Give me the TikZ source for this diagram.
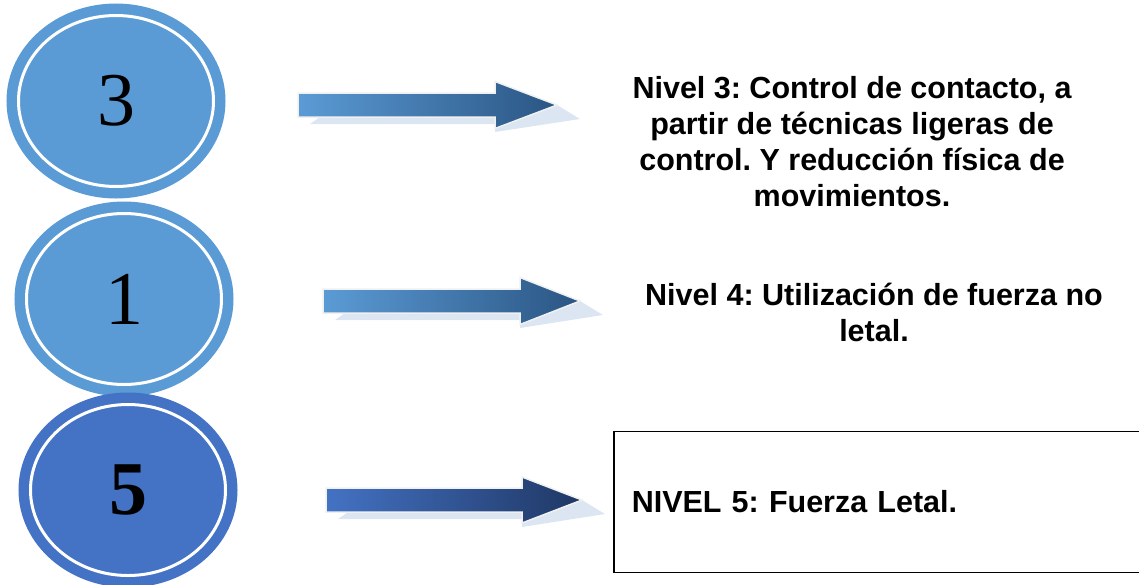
\documentclass[tikz,border=0pt]{standalone}
\usepackage{fontspec}
\setmainfont{Liberation Sans}
\newfontfamily\romana{Liberation Serif}
\usetikzlibrary{shapes.geometric}
\frenchspacing

\definecolor{azulclaro}{HTML}{5B9BD5}
\definecolor{azuloscuro}{HTML}{4472C4}
\definecolor{sombra}{HTML}{DCE6F2}
\definecolor{puntaclara}{HTML}{2A5583}
\definecolor{puntaoscura}{HTML}{1F3764}

\tikzset{
  anillo/.style={ellipse, inner sep=0pt, minimum width=195pt, minimum height=171pt,
    fill=#1, draw=white, line width=3pt, preaction={draw=#1, line width=24pt}},
  flechaclara/.style={left color=azulclaro, right color=puntaclara, draw=black!6, line width=1.5pt},
  flechaoscura/.style={left color=azuloscuro, right color=puntaoscura, draw=black!6, line width=1.5pt},
  nivel/.style={font=\bfseries\fontsize{30.5}{36}\selectfont, align=center},
  numero/.style={font=\romana\fontsize{76}{84}\selectfont}
}

\begin{document}
\begin{tikzpicture}[x=1pt,y=-1pt]
	\useasboundingbox (0,0) rectangle (1139,584);

	\node[anillo=azulclaro] (c3) at (116,101) {};
	\node[numero] (n3) at (c3.center) {3};
	\node[anillo=azulclaro] (c1) at (124,299) {};
	\node[numero] (n1) at (c1.center) {1};
	\node[anillo=azuloscuro] (c5) at (128,490) {};
	\node[numero, font=\romana\bfseries\fontsize{76}{84}\selectfont] (n5) at (c5.center) {5};

	\fill[sombra] (310,124) -- (320,117) -- (557,105) -- (580,119) -- (495,132) -- (495,124) -- cycle;
	\shade[flechaclara] (298,93) -- (495,93) -- (495,81.5) -- (557,105) -- (495,128.5) -- (495,117) -- (298,117) -- cycle;

	\fill[sombra] (335,320) -- (345,313) -- (580,301) -- (603,315) -- (520,328) -- (520,320) -- cycle;
	\shade[flechaclara] (323,289) -- (520,289) -- (520,277.5) -- (580,301) -- (520,324.5) -- (520,313) -- (323,313) -- cycle;

	\fill[sombra] (338,519) -- (348,512) -- (582,500) -- (605,514) -- (522,527) -- (522,519) -- cycle;
	\shade[flechaoscura] (326,488) -- (522,488) -- (522,477) -- (582,500) -- (522,523) -- (522,512) -- (326,512) -- cycle;

	\node[nivel] (t3) at (852,142) {Nivel 3: Control de contacto, a\\ partir de técnicas ligeras de\\ control. Y reducción física de\\ movimientos.};
	\node[nivel] (t4) at (874,312) {Nivel 4: Utilización de fuerza no\\ letal.};
	\node[draw, line width=1.5pt, anchor=west, minimum height=141pt, inner xsep=18pt,
	      text width=509pt, align=left, font=\bfseries\fontsize{30.5}{36}\selectfont] (t5) at (613,502) {NIVEL 5: Fuerza Letal.};
\end{tikzpicture}
\end{document}
